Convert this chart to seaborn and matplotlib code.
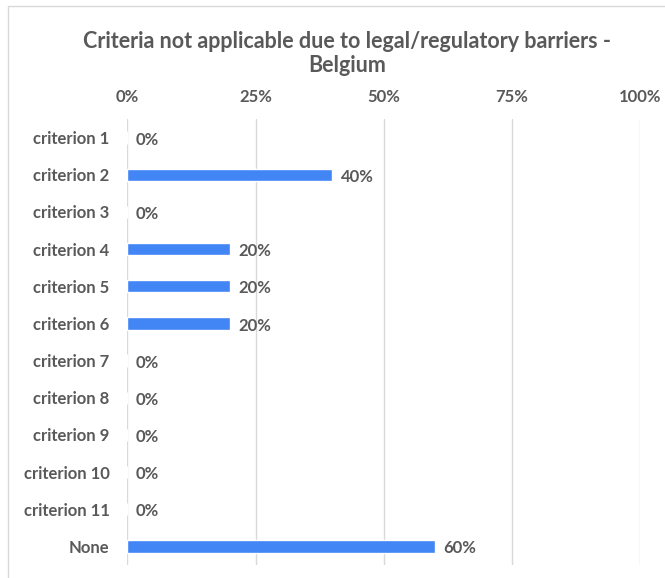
import matplotlib
matplotlib.use("Agg")
import matplotlib.pyplot as plt
import seaborn as sns
import pandas as pd
from matplotlib.patches import Rectangle

categories = ["criterion 1", "criterion 2", "criterion 3", "criterion 4",
              "criterion 5", "criterion 6", "criterion 7", "criterion 8",
              "criterion 9", "criterion 10", "criterion 11", "None"]
shares = [0, 40, 0, 20, 20, 20, 0, 0, 0, 0, 0, 60]
tick_vals = [0, 25, 50, 75, 100]
tick_labels = ["0%", "25%", "50%", "75%", "100%"]

df = pd.DataFrame({"criterion": categories, "share": shares})

sns.set_style("white")
plt.rcParams["font.family"] = ["Lato", "DejaVu Sans"]
grey = "#595959"
blue = "#4285F4"

fig = plt.figure(figsize=(6.65, 5.78), dpi=100)
ax = fig.add_axes([0.1917, 0.0225, 0.7707, 0.7716])

sns.barplot(data=df, x="share", y="criterion", color=blue, width=0.33,
            saturation=1, ax=ax)

ax.set_xlim(0, 100)
ax.set_xticks(tick_vals)
ax.set_xticklabels(tick_labels)
ax.xaxis.tick_top()
ax.tick_params(axis="x", length=0, pad=10, labelsize=12, labelcolor=grey)
ax.tick_params(axis="y", length=0, pad=13, labelsize=12, labelcolor=grey)
for lab in ax.get_xticklabels() + ax.get_yticklabels():
    lab.set_fontweight("bold")
ax.set_xlabel("")
ax.set_ylabel("")
ax.grid(axis="x", color="#D9D9D9", linewidth=1)
ax.set_axisbelow(True)
for s in ax.spines.values():
    s.set_visible(False)

for i, v in enumerate(shares):
    ax.annotate(f"{v}%", (v, i), xytext=(6, -1.5), textcoords="offset points",
                va="center", ha="left", fontsize=12, fontweight="bold",
                color=grey)

fig.text(0.522, 0.907, "Criteria not applicable due to legal/regulatory barriers -\nBelgium",
         ha="center", va="center", fontsize=15.5, fontweight="bold", color=grey,
         linespacing=1.15)

fig.patches.append(Rectangle((8 / 665, -0.1), 1.2, 1 - 6 / 578 + 0.1,
                             transform=fig.transFigure, fill=False,
                             edgecolor="#D9D9D9", linewidth=1))

fig.savefig("out.png", dpi=100)
